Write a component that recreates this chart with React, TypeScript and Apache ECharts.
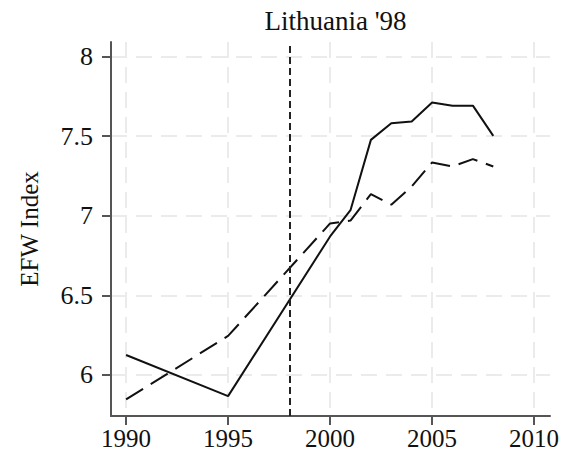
import React, { useEffect, useRef } from "react";
import * as echarts from "echarts";

const years = [1990, 1995, 2000, 2001, 2002, 2003, 2004, 2005, 2006, 2007, 2008];
const actual = [6.125, 5.867, 6.87, 7.035, 7.477, 7.582, 7.592, 7.712, 7.692, 7.692, 7.502];
const synthetic = [5.846, 6.245, 6.952, 6.97, 7.136, 7.07, 7.184, 7.335, 7.31, 7.356, 7.31];
const xTicks = [1990, 1995, 2000, 2005, 2010];
const yTicks = [6, 6.5, 7, 7.5, 8];
const treatYear = 1998;
const titleText = "Lithuania '98";
const yName = "EFW Index";

const FONT = "Liberation Serif";

export default function App() {
  const ref = useRef<HTMLDivElement>(null);
  useEffect(() => {
    const chart = echarts.init(ref.current!, null, { renderer: "svg" });
    const grid = "#ebebeb";
    chart.setOption({
      animation: false,
      backgroundColor: "#ffffff",
      textStyle: { fontFamily: FONT },
      title: {
        text: titleText,
        left: 330.5,
        top: 2,
        textAlign: "center",
        textStyle: { fontFamily: FONT, fontSize: 27, fontWeight: "normal", color: "#111" },
      },
      grid: { left: 111, right: 21, top: 42, bottom: 40, containLabel: false },
      xAxis: {
        type: "value",
        min: 1989.26,
        max: 2010.78,
        axisLine: { show: true, lineStyle: { color: "#555", width: 2 } },
        axisTick: { show: true, customValues: xTicks, length: 9, lineStyle: { color: "#555", width: 2 } },
        axisLabel: {
          customValues: xTicks,
          margin: 10,
          fontFamily: FONT,
          fontSize: 25,
          color: "#111",
          formatter: (v: number) => String(Math.round(v)),
        },
        splitLine: { show: true, lineStyle: { color: grid, width: 2, type: [16, 9] } },
      },
      yAxis: {
        type: "value",
        min: 5.742,
        max: 8.092,
        name: yName,
        nameLocation: "middle",
        nameGap: 69,
        nameTextStyle: { fontFamily: FONT, fontSize: 25, color: "#111" },
        axisLine: { show: true, lineStyle: { color: "#555", width: 2 } },
        axisTick: { show: true, customValues: yTicks, length: 9, lineStyle: { color: "#555", width: 2 } },
        axisLabel: {
          customValues: yTicks,
          margin: 18,
          fontFamily: FONT,
          fontSize: 26,
          color: "#111",
          formatter: (v: number) => String(Math.round(v * 10) / 10),
        },
        splitLine: { show: true, lineStyle: { color: grid, width: 2, type: [16, 9] } },
      },
      series: [
        {
          type: "line",
          data: years.map((y, i) => [y, actual[i]]),
          showSymbol: false,
          lineStyle: { color: "#111", width: 2 },
          markLine: {
            silent: true,
            symbol: ["none", "none"],
            label: { show: false },
            lineStyle: { color: "#222", width: 2, type: [7, 4] },
            data: [{ xAxis: treatYear }],
          },
        },
        {
          type: "line",
          data: years.map((y, i) => [y, synthetic[i]]),
          showSymbol: false,
          lineStyle: { color: "#111", width: 2, type: [20, 9] },
        },
      ],
    });
    return () => chart.dispose();
  }, []);
  return <div ref={ref} style={{ width: 571, height: 456, margin: -8 }} />;
}
